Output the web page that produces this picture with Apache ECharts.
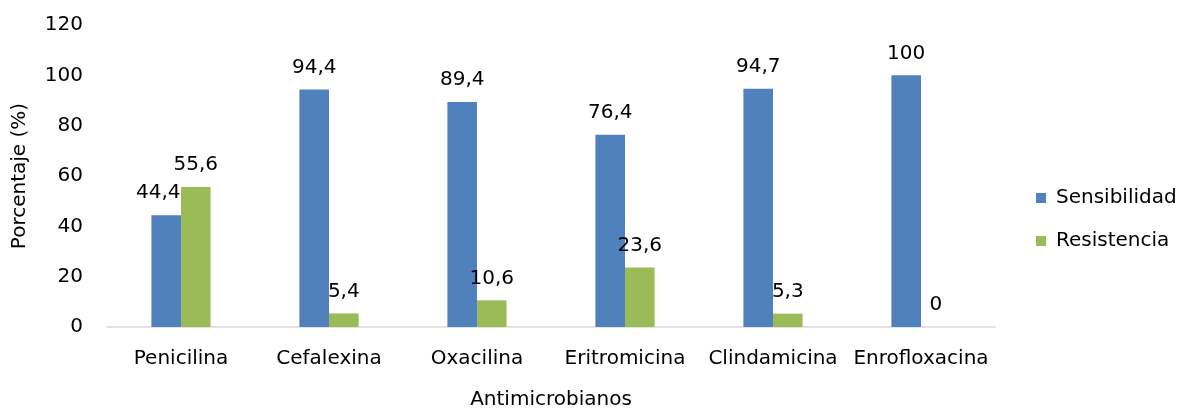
<!DOCTYPE html>
<html>
<head>
<meta charset="utf-8">
<script src="https://cdn.jsdelivr.net/npm/echarts@6/dist/echarts.min.js"></script>
<style>html,body{margin:0;padding:0;background:#fff;}#c{width:1188px;height:410px;}</style>
</head>
<body>
<div id="c"></div>
<script>
const categories = ['Penicilina', 'Cefalexina', 'Oxacilina', 'Eritromicina', 'Clindamicina', 'Enrofloxacina'];
const sensibilidad = [44.4, 94.4, 89.4, 76.4, 94.7, 100];
const resistencia = [55.6, 5.4, 10.6, 23.6, 5.3, 0];
const seriesNames = ['Sensibilidad', 'Resistencia'];

const FONT = 'DejaVu Sans';
const FS = 20;
const fmt = p => String(p.value).replace('.', ',');
const chart = echarts.init(document.getElementById('c'));
chart.setOption({
  animation: false,
  textStyle: { fontFamily: FONT },
  grid: { left: 107, right: 193, top: 25, bottom: 83, containLabel: false, outerBoundsMode: 'none' },
  legend: {
    orient: 'vertical', left: 1036, top: 188, itemWidth: 10, itemHeight: 10, itemGap: 23,
    icon: 'rect', padding: 0,
    textStyle: { fontFamily: FONT, fontSize: FS, color: '#000', padding: [0, 0, 0, 5] },
    data: seriesNames
  },
  xAxis: {
    type: 'category', data: categories,
    name: 'Antimicrobianos', nameLocation: 'middle', nameGap: 63,
    nameTextStyle: { fontFamily: FONT, fontSize: FS, color: '#000' },
    axisLine: { lineStyle: { color: '#D9D9D9', width: 1.5 } },
    axisTick: { show: false },
    axisLabel: { fontFamily: FONT, fontSize: FS, color: '#000', margin: 22, interval: 0 }
  },
  yAxis: {
    type: 'value', min: 0, max: 120, interval: 20,
    name: 'Porcentaje (%)', nameLocation: 'middle', nameGap: 77, nameRotate: 90,
    nameTextStyle: { fontFamily: FONT, fontSize: FS, color: '#000' },
    axisLine: { show: false }, axisTick: { show: false }, splitLine: { show: false },
    axisLabel: { fontFamily: FONT, fontSize: FS, color: '#000', margin: 24 }
  },
  series: [
    {
      name: seriesNames[0], type: 'bar', data: sensibilidad.map((v, i) => i === 0 ? { value: v, label: { offset: [-8, 0] } } : v),
      barWidth: '20%', barGap: '0%',
      itemStyle: { color: '#4F81BD' },
      label: { show: true, position: 'top', distance: 12, formatter: fmt, fontFamily: FONT, fontSize: FS, color: '#000' }
    },
    {
      name: seriesNames[1], type: 'bar', data: resistencia,
      barWidth: '20%', barGap: '0%',
      itemStyle: { color: '#9BBB59' },
      label: { show: true, position: 'top', distance: 12, formatter: fmt, fontFamily: FONT, fontSize: FS, color: '#000' }
    }
  ]
});
</script>
</body>
</html>
